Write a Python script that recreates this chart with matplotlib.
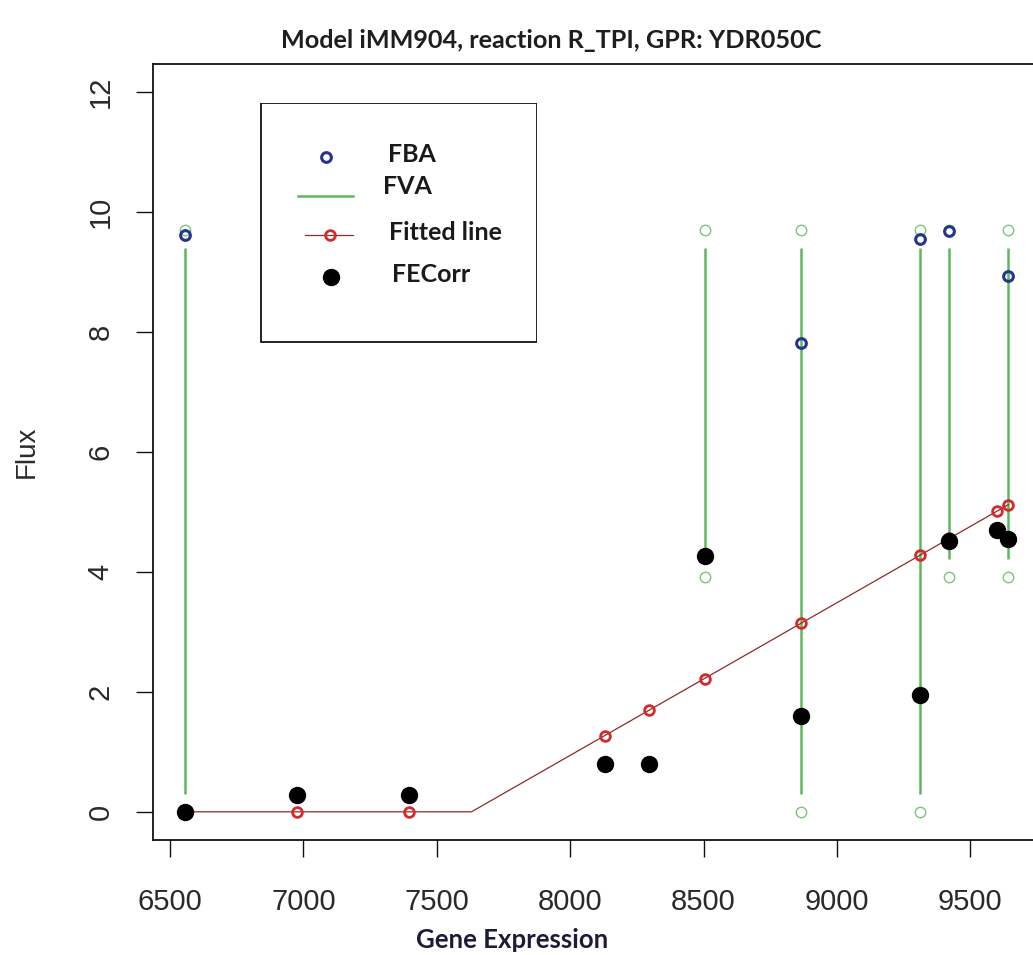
import numpy as np
import matplotlib
matplotlib.use("Agg")
import matplotlib.pyplot as plt
from matplotlib.patches import Rectangle

# ---------- data ----------
gene_expr = [6556, 6975, 7394, 8131, 8294, 8506, 8865, 9312, 9421, 9600, 9642]
fecorr    = [0.00, 0.28, 0.28, 0.79, 0.79, 4.26, 1.59, 1.95, 4.52, 4.70, 4.55]
fitted    = [0.00, 0.00, 0.00, 1.27, 1.69, 2.22, 3.15, 4.28, 4.56, 5.02, 5.12]

# fitted piecewise line path (flat, knee, rising)
fit_line_x = [6556, 7630, 9642]
fit_line_y = [0.00, 0.00, 5.12]

fba_x = [6556, 8865, 9312, 9421, 9642]
fba_y = [9.62, 7.81, 9.56, 9.69, 8.93]

fva_x   = [6556, 8506, 8865, 9312, 9421, 9642]
fva_min = [0.00, 3.92, 0.00, 0.00, 3.92, 3.92]
fva_max = [9.70, 9.70, 9.70, 9.70, 9.70, 9.70]

x_ticks = [6500, 7000, 7500, 8000, 8500, 9000, 9500]
y_ticks = [0, 2, 4, 6, 8, 10, 12]

# ---------- style ----------
NAVY   = "#26348c"
RED    = "#d42a2a"
DKRED  = "#8e2b2b"
GREEN  = "#5db85d"
LTGRN  = "#7cc47c"
TXT    = "#2a2a2a"
SANS   = ["Liberation Sans", "DejaVu Sans"]
BOLD   = ["Lato", "DejaVu Sans"]

W, H = 1033, 955
fig = plt.figure(figsize=(W / 100, H / 100), dpi=100)
fig.patch.set_facecolor("white")

def px_axes(l, t, r, b):
    return [l / W, (H - b) / H, (r - l) / W, (b - t) / H]

ax = fig.add_axes(px_axes(153, 64, 1041, 840))
ax.set_xlim(6436, 9765)
ax.set_ylim(-0.47, 12.47)

# FVA ranges: open circles at both ends, line with a gap near them
gap = 0.3
ax.vlines(fva_x, np.array(fva_min) + gap, np.array(fva_max) - gap,
          color=GREEN, linewidth=1.8, zorder=1)
ax.plot(fva_x + fva_x, fva_min + fva_max, linestyle="none", marker="o",
        markersize=7.5, markerfacecolor="none", markeredgecolor=LTGRN,
        markeredgewidth=1.0, zorder=2)

# fitted line + its markers
ax.plot(fit_line_x, fit_line_y, color=DKRED, linewidth=0.9, zorder=3)
ax.plot(gene_expr, fitted, linestyle="none", marker="o", markersize=7,
        markerfacecolor="none", markeredgecolor=RED, markeredgewidth=2.0,
        zorder=4)

# FBA
ax.plot(fba_x, fba_y, linestyle="none", marker="o", markersize=7,
        markerfacecolor="none", markeredgecolor=NAVY, markeredgewidth=2.2,
        zorder=5)

# FECorr
ax.plot(gene_expr, fecorr, linestyle="none", marker="o", markersize=11.5,
        color="black", zorder=6)

# box: left, bottom, top visible (right side is cut off in the reference)
ax.spines["right"].set_visible(False)
for s in ("left", "bottom", "top"):
    ax.spines[s].set_linewidth(1.3)
    ax.spines[s].set_color("#111111")

ax.set_xticks(x_ticks)
ax.set_yticks(y_ticks)
ax.tick_params(axis="both", direction="out", length=12.5, width=1.0,
               color="#111111", labelsize=21, labelcolor=TXT)
ax.tick_params(axis="x", pad=22)
ax.tick_params(axis="y", pad=15)
for lab in ax.get_xticklabels():
    lab.set_family(SANS)
for lab in ax.get_yticklabels():
    lab.set_family(SANS)
    lab.set_rotation(90)
    lab.set_va("center")

ax.set_ylabel("Flux", fontsize=20, color=TXT, family=SANS)
ax.yaxis.set_label_coords(-0.128, 0.5)

fig.text(512 / W, 1 - 940 / H, "Gene Expression", ha="center", va="center",
         fontsize=18.5, fontweight="bold", color="#1c1c38", family=BOLD)
fig.text(551 / W, 1 - 41 / H, "Model iMM904, reaction R_TPI, GPR: YDR050C",
         ha="center", va="center", fontsize=18.2, fontweight="bold",
         color="#1e1e1e", family=BOLD)

# ---------- legend, drawn in its own pixel-unit box ----------
lg = fig.add_axes(px_axes(260, 103, 537, 343))
lg.set_xlim(260, 537)
lg.set_ylim(343, 103)
lg.axis("off")
lg.add_patch(Rectangle((260.5, 103.5), 276, 239, fill=False,
                       edgecolor="#111111", linewidth=1.3))
lg.plot([326], [157], marker="o", markersize=7, markerfacecolor="none",
        markeredgecolor=NAVY, markeredgewidth=2.2)
lg.plot([298, 353], [196, 196], color=GREEN, linewidth=1.8)
lg.plot([305, 353], [235, 235], color=DKRED, linewidth=0.9)
lg.plot([330], [235], marker="o", markersize=7, markerfacecolor="none",
        markeredgecolor=RED, markeredgewidth=2.0)
lg.plot([331], [277], marker="o", markersize=11.5, color="black")
for x0, y0, t in [(388, 155, "FBA"), (383, 187, "FVA"),
                  (389, 233, "Fitted line"), (392, 274, "FECorr")]:
    lg.text(x0, y0, t, ha="left", va="center", fontsize=18,
            fontweight="bold", color="#1a1a1a", family=BOLD)

fig.savefig("out.png", dpi=100)
